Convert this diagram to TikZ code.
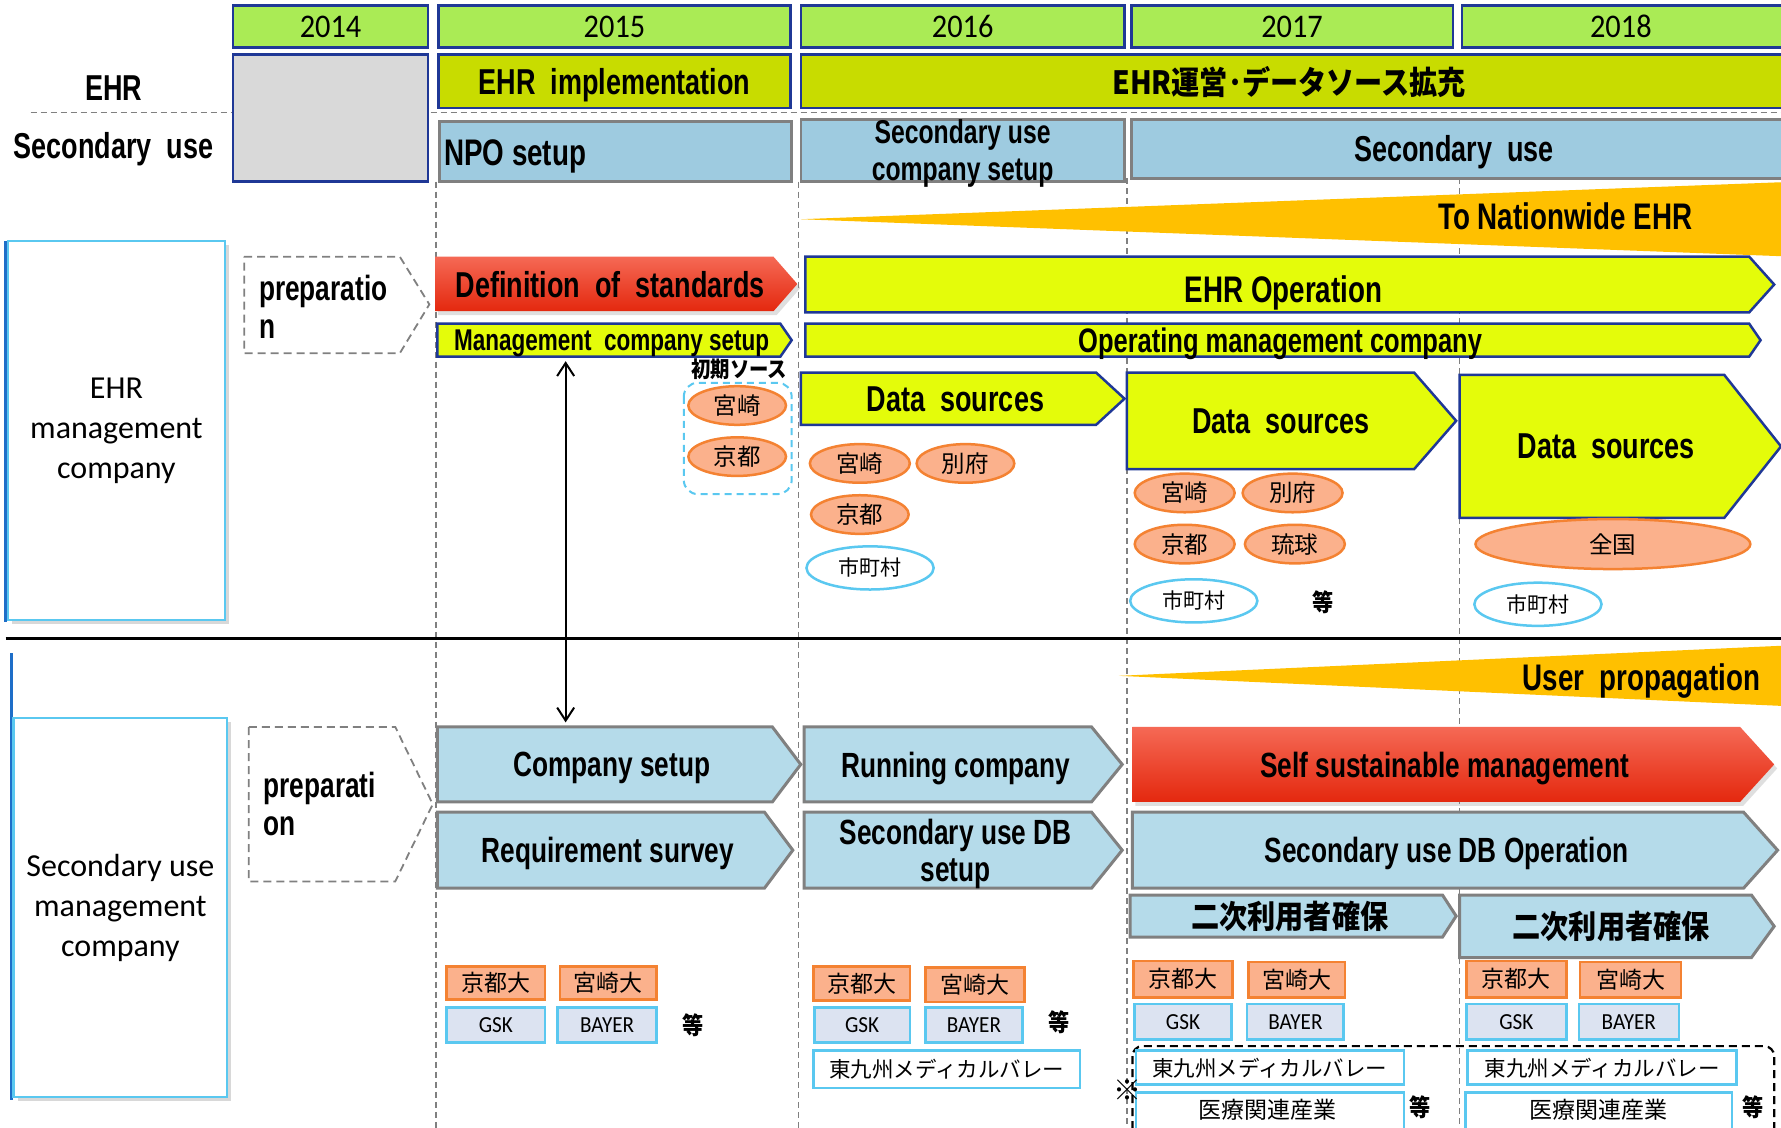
\documentclass[tikz,border=0pt]{standalone}
\usepackage{fontspec}
\setmainfont{Carlito}
\newfontfamily\hb{Liberation Sans}[FakeStretch=0.75]
\newfontfamily\jp{Noto Sans CJK JP}[FakeStretch=0.88]
\newfontfamily\jpr{Noto Sans CJK JP}
\newfontfamily\rc{Carlito}[FakeStretch=0.92]
\usetikzlibrary{shapes.geometric,arrows.meta,shadows}

\definecolor{yrgreen}{RGB}{170,235,85}
\definecolor{frameblue}{RGB}{31,56,150}
\definecolor{olive}{RGB}{200,220,0}
\definecolor{lime}{RGB}{228,252,10}
\definecolor{skyA}{RGB}{158,203,224}
\definecolor{skyB}{RGB}{181,219,234}
\definecolor{greyline}{RGB}{128,128,128}
\definecolor{gold}{RGB}{255,192,0}
\definecolor{redtop}{RGB}{245,105,85}
\definecolor{redbot}{RGB}{228,40,14}
\definecolor{peach}{RGB}{251,177,140}
\definecolor{peachline}{RGB}{244,130,50}
\definecolor{cyanline}{RGB}{90,200,240}
\definecolor{lav}{RGB}{220,227,241}
\definecolor{leftblue}{RGB}{30,110,200}
\definecolor{grayfill}{RGB}{217,217,217}

% chevron: name, path style, x1, y1, x2, y2, tip depth, text style, text
\newcommand\chev[9]{%
  \path[#2] (#3,#4) -- ({#5-#7},#4) -- (#5,{(#4+#6)/2}) -- ({#5-#7},#6) -- (#3,#6) -- cycle;
  \node[#8] (#1) at ({(#3+#5)/2-#7/4},{(#4+#6)/2}) {#9};}
% rectangle node from corner coordinates: name, style, x1, y1, x2, y2, text
\newcommand\rbox[7]{%
  \node[#2,minimum width={(#5-#3)*1.1358pt},minimum height={(#6-#4)*1.1358pt}]
    (#1) at ({(#3+#5)/2},{(#4+#6)/2}) {#7};}

\begin{document}
\begin{tikzpicture}[x=1.1358pt,y=-1.1358pt,
  yr/.style={draw=frameblue,line width=2.5pt,fill=yrgreen,inner sep=0pt,font=\rc\fontsize{33}{34}\selectfont},
  band/.style={draw=frameblue,line width=2.5pt,fill=olive,inner sep=0pt},
  skyband/.style={draw=greyline,line width=2.5pt,fill=skyA,inner sep=0pt},
  guide/.style={draw=greyline,line width=1.5pt,dash pattern=on 6pt off 4pt},
  hbf/.style 2 args={font=\hb\bfseries\fontsize{#1}{#2}\selectfont,text depth=0pt},
  jbf/.style 2 args={font=\jp\bfseries\fontsize{#1}{#2}\selectfont},
  jrf/.style={font=\jpr\fontsize{#1}{#1}\selectfont},
  limearrow/.style={draw=frameblue,line width=2.5pt,fill=lime,line join=miter},
  redarrow/.style={top color=redtop,bottom color=redbot,
    drop shadow={opacity=.25,shadow xshift=3pt,shadow yshift=-4pt}},
  skyarrow/.style={draw=greyline,line width=3pt,fill=skyB,line join=miter},
  prep/.style={draw=greyline,line width=1.8pt,dash pattern=on 8pt off 5pt},
  sidebox/.style={draw=cyanline,line width=2.5pt,fill=white,inner sep=0pt,align=center,
    font=\fontsize{32}{40}\selectfont,
    drop shadow={opacity=.3,shadow xshift=4pt,shadow yshift=-4pt}},
  es/.style 2 args={minimum width=#1*1.1358pt,minimum height=#2*1.1358pt},
  peachell/.style={ellipse,draw=peachline,line width=2.5pt,fill=peach,inner sep=0pt,
    font=\jpr\fontsize{23.5}{24}\selectfont},
  cyanell/.style={ellipse,draw=cyanline,line width=2.5pt,fill=white,inner sep=0pt,
    font=\jpr\fontsize{21}{21}\selectfont},
  uni/.style={draw=peachline,line width=2.5pt,fill=peach,inner sep=0pt,font=\jpr\fontsize{23}{23}\selectfont},
  firm/.style={draw=cyanline,line width=2.5pt,fill=lav,inner sep=0pt,font=\rc\fontsize{23}{23}\selectfont},
  cluster/.style={draw=cyanline,line width=2.5pt,fill=white,inner sep=0pt,font=\jpr\fontsize{21.5}{22}\selectfont},
  etc/.style={font=\jp\bfseries\fontsize{24}{24}\selectfont},
  dbl/.style={line width=2pt,{Straight Barb[length=13pt,width=17pt]}-{Straight Barb[length=13pt,width=17pt]}}
]
\clip (0,0) rectangle (1568,993);
\fill[white] (0,0) rectangle (1568,993);

% ---- guide lines ----
\draw[guide] (27,99) -- (1568,99);
\draw[guide] (384,160) -- (384,993);
\draw[guide] (703,160) -- (703,993);
\draw[guide] (992,157) -- (992,993);
\draw[guide] (1285,157) -- (1285,993);

% ---- year header ----
\rbox{y14}{yr}{205}{5}{377}{42}{2014}
\rbox{y15}{yr}{386}{5}{696}{42}{2015}
\rbox{y16}{yr}{705}{5}{990}{42}{2016}
\rbox{y17}{yr}{996}{5}{1279}{42}{2017}
\rbox{y18}{yr}{1287}{5}{1580}{42}{}
\node[font=\rc\fontsize{33}{34}\selectfont] (y18t) at (1427,23) {2018};

% ---- phase rows ----
\rbox{gray14}{draw=frameblue,line width=2.5pt,fill=grayfill}{205}{48}{377}{160}{}
\rbox{ehrimpl}{band,hbf={36}{38}}{386}{48}{696}{95}{EHR~~implementation}
\rbox{ehrops}{band}{705}{48}{1580}{95}{}
\node[jbf={32}{33}] (ehropst) at (1135,72) {EHR運営･データソース拡充};

\rbox{npo}{skyband}{387}{107}{697}{160}{}
\node[hbf={37}{40},anchor=west] (npot) at (388,134) {NPO setup};
\rbox{sucs}{skyband,hbf={33}{37},align=center}{705}{105}{990}{160}{Secondary use\\company setup}
\rbox{suse}{skyband}{996}{105}{1580}{157}{}
\node[hbf={36}{40}] (suset) at (1280,131) {Secondary~~use};

\node[hbf={36}{40}] (lblehr) at (100,78) {EHR};
\node[hbf={36}{40}] (lblsec) at (100,128) {Secondary~~use};

% ---- nationwide wedge ----
\fill[gold] (705,193) -- (1580,160) -- (1580,226) -- cycle;
\node[hbf={37}{40}] (nat) at (1378,190) {To Nationwide EHR};

% ---- EHR management company ----
\draw[leftblue,line width=2.5pt] (5,212) -- (5,548);
\rbox{box1}{sidebox}{7}{212}{198}{546}{EHR\\management\\company}

\path[prep] (215,226) -- (352,226) -- (378,268) -- (352,311) -- (215,311) -- cycle;
\node[hbf={35}{38},anchor=north west,align=left] (prep1) at (225,239) {preparatio\\n};

\chev{defstd}{redarrow}{383}{226}{702}{274}{21}{hbf={36}{38}}{Definition~~of~~standards}
\chev{mcs}{limearrow}{385}{285}{697}{314}{10}{hbf={30}{32}}{Management~~company setup}
\chev{eop}{limearrow}{709}{226}{1562}{275}{22}{hbf={37}{40},yshift=-5pt}{EHR Operation}
\chev{omc}{limearrow}{709}{285}{1550}{314}{10}{hbf={34}{36}}{Operating management company}

\node[jbf={22}{24}] (init) at (651,325) {初期ソース};
\draw[cyanline,line width=2pt,dash pattern=on 7pt off 5pt,rounded corners=14pt] (602,337) rectangle (697,435);
\node[peachell,es={86}{34}] (s1a) at (649,357) {宮崎};
\node[peachell,es={86}{34}] (s1b) at (649,402) {京都};

\chev{ds1}{limearrow}{705}{328}{990}{374}{25}{hbf={36}{38}}{Data~~sources}
\chev{ds2}{limearrow}{992}{328}{1282}{413}{37}{hbf={36}{38}}{Data~~sources}
\chev{ds3}{limearrow}{1285}{330}{1568}{456}{50}{hbf={36}{38}}{Data~~sources}

\node[peachell,es={88}{34}] (s2a) at (757,408) {宮崎};
\node[peachell,es={86}{34}] (s2b) at (850,408) {別府};
\node[peachell,es={86}{34}] (s2c) at (757,453) {京都};
\node[cyanell,es={112}{38}] (s2d) at (766,500) {市町村};

\node[peachell,es={88}{34}] (s3a) at (1043,434) {宮崎};
\node[peachell,es={88}{34}] (s3b) at (1138,434) {別府};
\node[peachell,es={88}{34}] (s3c) at (1043,479) {京都};
\node[peachell,es={88}{34}] (s3d) at (1140,479) {琉球};
\node[cyanell,es={112}{38}] (s3e) at (1051,529) {市町村};
\node[etc] (s3f) at (1165,530) {等};

\node[peachell,es={242}{44}] (s4a) at (1420,479) {全国};
\node[cyanell,es={112}{38}] (s4b) at (1354,532) {市町村};

% ---- section divider ----
\draw[black,line width=2.5pt] (5,562) -- (1568,562);

% ---- secondary use management company ----
\draw[leftblue,line width=2.5pt] (10,575) -- (10,968);
\rbox{box2}{sidebox}{12}{632}{200}{966}{Secondary use\\management\\company}

\path[prep] (219,640) -- (348,640) -- (381,708) -- (348,776) -- (219,776) -- cycle;
\node[hbf={35}{38},anchor=north west,align=left] (prep2) at (229,677) {preparati\\on};

\fill[gold] (985,595) -- (1580,568) -- (1580,622) -- cycle;
\node[hbf={37}{40}] (userp) at (1445,596) {User~~propagation};

\chev{cs}{skyarrow}{385}{640}{705}{706}{25}{hbf={35}{38}}{Company setup}
\chev{rs}{skyarrow}{385}{715}{698}{782}{25}{hbf={35}{38}}{Requirement survey}
\chev{rc}{skyarrow}{708}{640}{988}{706}{27}{hbf={35}{38}}{Running company}
\chev{dbs}{skyarrow}{708}{715}{988}{782}{27}{hbf={35}{37},align=center}{Secondary use DB\\setup}
\chev{ssm}{redarrow}{997}{640}{1562}{706}{30}{hbf={35}{38}}{Self sustainable management}
\chev{dbo}{skyarrow}{997}{715}{1565}{782}{30}{hbf={35}{38}}{Secondary use DB Operation}
\chev{jy1}{skyarrow}{995}{788}{1282}{825}{12}{jbf={32}{34}}{二次利用者確保}
\chev{jy2}{skyarrow}{1285}{788}{1562}{843}{20}{jbf={32}{34}}{二次利用者確保}

\coordinate (mcsfoot) at (498,318);
\coordinate (cshead) at (498,636);
\draw[dbl] (mcsfoot) -- (cshead);

% ---- partners 2015 ----
\rbox{u15a}{uni}{393}{851}{480}{880}{京都大}
\rbox{u15b}{uni}{493}{851}{578}{880}{宮崎大}
\rbox{f15a}{firm}{393}{887}{480}{918}{GSK}
\rbox{f15b}{firm}{491}{887}{578}{918}{BAYER}
\node[etc] (e15) at (610,903) {等};

% ---- partners 2016 ----
\rbox{u16a}{uni}{716}{851}{801}{881}{京都大}
\rbox{u16b}{uni}{815}{852}{902}{882}{宮崎大}
\rbox{f16a}{firm}{717}{887}{801}{918}{GSK}
\rbox{f16b}{firm}{815}{887}{900}{918}{BAYER}
\node[etc] (e16) at (932,900) {等};
\rbox{c16}{cluster}{716}{925}{951}{958}{東九州メディカルバレー}

% ---- partners 2017 ----
\draw[black,line width=2.2pt,dash pattern=on 8pt off 5pt,rounded corners=10pt] (997,921) rectangle (1562,1010);
\rbox{u17a}{uni}{998}{846}{1085}{878}{京都大}
\rbox{u17b}{uni}{1099}{847}{1184}{878}{宮崎大}
\rbox{f17a}{firm}{999}{884}{1084}{915}{GSK}
\rbox{f17b}{firm}{1098}{884}{1183}{915}{BAYER}
\rbox{c17}{cluster}{1000}{925}{1236}{955}{東九州メディカルバレー}
\rbox{m17}{cluster}{1000}{962}{1236}{1000}{}
\node[jrf=23] (m17t) at (1116,977) {医療関連産業};
\node[etc] (e17) at (1250,975) {等};
\node[jrf=28] (note) at (993,960) {※};

% ---- partners 2018 ----
\rbox{u18a}{uni}{1291}{846}{1379}{878}{京都大}
\rbox{u18b}{uni}{1391}{847}{1480}{878}{宮崎大}
\rbox{f18a}{firm}{1291}{884}{1379}{915}{GSK}
\rbox{f18b}{firm}{1390}{884}{1478}{915}{BAYER}
\rbox{c18}{cluster}{1292}{925}{1529}{955}{東九州メディカルバレー}
\rbox{m18}{cluster}{1290}{962}{1525}{1000}{}
\node[jrf=23] (m18t) at (1407,977) {医療関連産業};
\node[etc] (e18) at (1543,975) {等};
\end{tikzpicture}
\end{document}
